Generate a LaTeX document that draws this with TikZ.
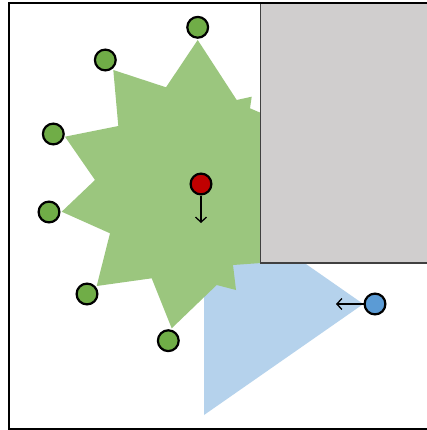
\documentclass[tikz,border=0pt]{standalone}
\usetikzlibrary{arrows.meta,positioning,calc}
\definecolor{puntoverde}{RGB}{112,173,71}
\definecolor{robotrojo}{RGB}{192,0,0}
\definecolor{agenteazul}{RGB}{91,155,213}
\definecolor{muro}{RGB}{208,206,206}
\tikzset{
    marca/.style={
        circle,                   % forma básica: círculo
        draw=black,               % borde negro
        line width=2.2pt,         % borde grueso
        fill=#1,                  % relleno con el color que se pasa
        minimum size=20.8pt,      % diámetro del punto
        inner sep=0pt             % sin espacio interior (no lleva texto)
    },
    zonaescaneo/.style={
        fill=puntoverde!70!white  % relleno verde suave del polígono
    },
    zonavision/.style={
        fill=agenteazul!45!white  % relleno azul claro del cono
    },
    obstaculo/.style={
        draw=black!75,            % borde gris oscuro
        line width=1.2pt,
        fill=muro                 % relleno gris claro
    },
    rumbo/.style={
        -{Straight Barb[length=5pt,width=11pt]}, % punta abierta
        line width=1.3pt
    }
}
\begin{document}
\begin{tikzpicture}[x=1pt,y=-1pt]
    \useasboundingbox (0,0) rectangle (427,430);
    \fill[white] (9.3,3.3) rectangle (440,429);

    % cono de visión del agente
    \fill[zonavision] (204,193) -- (363.3,304) -- (204,415) -- cycle;

    % polígono del escaneo
    \fill[zonaescaneo] (197.7,40) -- (166,87.3) -- (113.3,70) -- (118.3,126)
        -- (65,136.7) -- (95,180) -- (61.7,211.7) -- (110,233.3)
        -- (96.7,286) -- (151.7,278.3) -- (171.7,328.3) -- (216.7,285)
        -- (236,290) -- (233,265) -- (275,262) -- (300,200) -- (275,150)
        -- (300,125) -- (261.7,113.3) -- (250,108.3) -- (251.7,96.7)
        -- (236.7,100) -- cycle;

    % obstáculo
    \draw[obstaculo] (260.7,3.3) rectangle (440,263);

    % puntos del escaneo
    \node[marca=puntoverde] (p1) at (197.7,27.3) {};
    \node[marca=puntoverde] (p2) at (105.3,60) {};
    \node[marca=puntoverde] (p3) at (53.3,134) {};
    \node[marca=puntoverde] (p4) at (49,212) {};
    \node[marca=puntoverde] (p5) at (87,294) {};
    \node[marca=puntoverde] (p6) at (168.3,340.7) {};

    % robot y agente
    \node[marca=robotrojo] (robot) at (201,184) {};
    \node[marca=agenteazul] (agente) at (375,304) {};
    \coordinate (rumborobot) at (201,223);
    \coordinate (rumboagente) at (336,304);

    \draw[rumbo] (robot) -- (rumborobot);
    \draw[rumbo] (agente) -- (rumboagente);

    % marco
    \draw[line width=2pt] (9.3,3.3) rectangle (440,429);
\end{tikzpicture}
\end{document}
